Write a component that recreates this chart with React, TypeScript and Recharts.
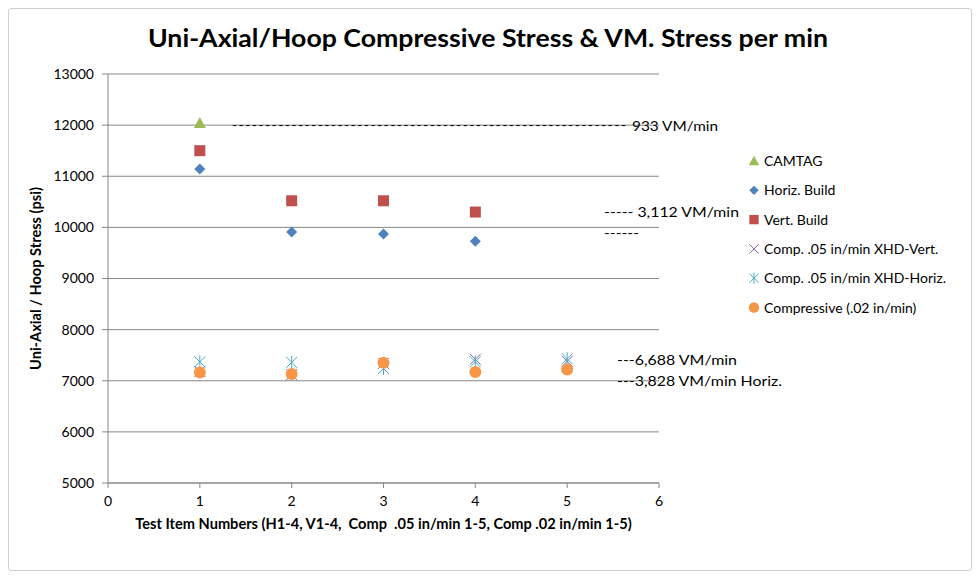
import React from 'react'
import { ScatterChart, Scatter, XAxis, YAxis, CartesianGrid } from 'recharts'

const FONT = 'Lato, "Open Sans", sans-serif'

const xTicks = [0, 1, 2, 3, 4, 5, 6]
const yTicks = [5000, 6000, 7000, 8000, 9000, 10000, 11000, 12000, 13000]

const camtag = [12040]
const horizBuild = [11140, 9910, 9870, 9730]
const vertBuild = [11500, 10520, 10520, 10300]
const xhdVert = [7180, 7120, 7340, 7420, 7380]
const xhdHoriz = [7370, 7360, 7240, 7370, 7430]
const compressive = [7160, 7130, 7350, 7170, 7220]

const toPoints = (vals: number[]) => vals.map((y, i) => ({ x: i + 1, y }))

type Kind = 'triangle' | 'diamond' | 'square' | 'x' | 'asterisk' | 'circle'

const SERIES: { name: string; color: string; kind: Kind; values: number[] }[] = [
  { name: 'CAMTAG', color: '#9bbb59', kind: 'triangle', values: camtag },
  { name: 'Horiz. Build', color: '#4f81bd', kind: 'diamond', values: horizBuild },
  { name: 'Vert. Build', color: '#c0504d', kind: 'square', values: vertBuild },
  { name: 'Comp. .05 in/min XHD-Vert.', color: '#8064a2', kind: 'x', values: xhdVert },
  { name: 'Comp. .05 in/min XHD-Horiz.', color: '#4bacc6', kind: 'asterisk', values: xhdHoriz },
  { name: 'Compressive (.02 in/min)', color: '#f79646', kind: 'circle', values: compressive },
]

function Marker({ kind, color, cx, cy, s = 1 }: { kind: Kind; color: string; cx: number; cy: number; s?: number }) {
  const r = 5.5 * s
  switch (kind) {
    case 'triangle':
      return <polygon points={`${cx},${cy - r - 0.5} ${cx + r + 0.5},${cy + r - 0.5} ${cx - r - 0.5},${cy + r - 0.5}`} fill={color} />
    case 'diamond':
      return <polygon points={`${cx},${cy - r} ${cx + r},${cy} ${cx},${cy + r} ${cx - r},${cy}`} fill={color} />
    case 'square':
      return <rect x={cx - r} y={cy - r} width={2 * r} height={2 * r} fill={color} />
    case 'x':
      return (
        <g stroke={color} strokeWidth={1}>
          <line x1={cx - r} y1={cy - r} x2={cx + r} y2={cy + r} />
          <line x1={cx - r} y1={cy + r} x2={cx + r} y2={cy - r} />
        </g>
      )
    case 'asterisk':
      return (
        <g stroke={color} strokeWidth={1}>
          <line x1={cx - r} y1={cy - r} x2={cx + r} y2={cy + r} />
          <line x1={cx - r} y1={cy + r} x2={cx + r} y2={cy - r} />
          <line x1={cx} y1={cy - r - 1} x2={cx} y2={cy + r + 1} />
        </g>
      )
    default:
      return <circle cx={cx} cy={cy} r={r + 0.5} fill={color} />
  }
}

const tickStyle = { fontSize: 14, fill: '#000', fontFamily: FONT }
const axisLabelStyle = { fontSize: 14.6, fontWeight: 700, fill: '#000', fontFamily: FONT }

export default function App() {
  return (
    <div style={{ position: 'absolute', left: 0, top: 0, width: 980, height: 579, background: '#fff', fontFamily: FONT }}>
      <div style={{ position: 'absolute', left: 8, top: 8, width: 962, height: 561, border: '1px solid #d0d0d0', borderRadius: 3 }} />
      <div style={{ position: 'absolute', left: 0, top: 0 }}>
        <ScatterChart width={980} height={579} margin={{ top: 74, right: 321, bottom: 36, left: 0 }}>
          <CartesianGrid vertical={false} stroke="#878787" />
          <XAxis
            type="number"
            dataKey="x"
            domain={[0, 6]}
            ticks={xTicks}
            height={60}
            stroke="#878787"
            tick={tickStyle}
            tickSize={5}
            tickMargin={8}
            label={{ value: 'Test Item Numbers (H1-4, V1-4,\u00a0 Comp\u00a0 .05 in/min 1-5, Comp .02 in/min 1-5)', position: 'insideBottom', offset: 14, style: { ...axisLabelStyle, textAnchor: 'middle' } }}
          />
          <YAxis
            type="number"
            dataKey="y"
            domain={[5000, 13000]}
            ticks={yTicks}
            width={108}
            stroke="#878787"
            tick={tickStyle}
            tickSize={6}
            tickMargin={8}
            label={{ value: 'Uni-Axial / Hoop Stress (psi)', angle: -90, position: 'insideLeft', offset: 36, style: { ...axisLabelStyle, textAnchor: 'middle' } }}
          />
          {SERIES.map((s) => (
            <Scatter
              key={s.name}
              name={s.name}
              data={toPoints(s.values)}
              isAnimationActive={false}
              shape={(p: any) => <Marker kind={s.kind} color={s.color} cx={p.cx} cy={p.cy} />}
            />
          ))}
        </ScatterChart>
      </div>
      <svg width={980} height={579} style={{ position: 'absolute', left: 0, top: 0, pointerEvents: 'none' }} fontFamily={FONT}>
        <text x={488} y={47} textAnchor="middle" fontSize={25} fontWeight={700} textLength={680} lengthAdjust="spacingAndGlyphs">
          Uni-Axial/Hoop Compressive Stress &amp; VM. Stress per min
        </text>
        <text x={232} y={130} fontSize={14} textLength={394} lengthAdjust="spacing">
          {'-'.repeat(60)}
        </text>
        <text x={632} y={131} fontSize={14} textLength={86} lengthAdjust="spacingAndGlyphs">933 VM/min</text>
        <text x={604} y={217} fontSize={14} textLength={135} lengthAdjust="spacingAndGlyphs">----- 3,112 VM/min</text>
        <text x={604} y={238} fontSize={14} textLength={35} lengthAdjust="spacingAndGlyphs">------</text>
        <text x={617} y={365} fontSize={14} textLength={120} lengthAdjust="spacingAndGlyphs">---6,688 VM/min</text>
        <text x={617} y={386} fontSize={14} textLength={165} lengthAdjust="spacingAndGlyphs">---3,828 VM/min Horiz.</text>
        {SERIES.map((s, i) => (
          <g key={s.name}>
            <Marker kind={s.kind} color={s.color} cx={754} cy={161 + i * 29.3} s={0.85} />
            <text x={764} y={166 + i * 29.3} fontSize={14}>{s.name}</text>
          </g>
        ))}
      </svg>
    </div>
  )
}
